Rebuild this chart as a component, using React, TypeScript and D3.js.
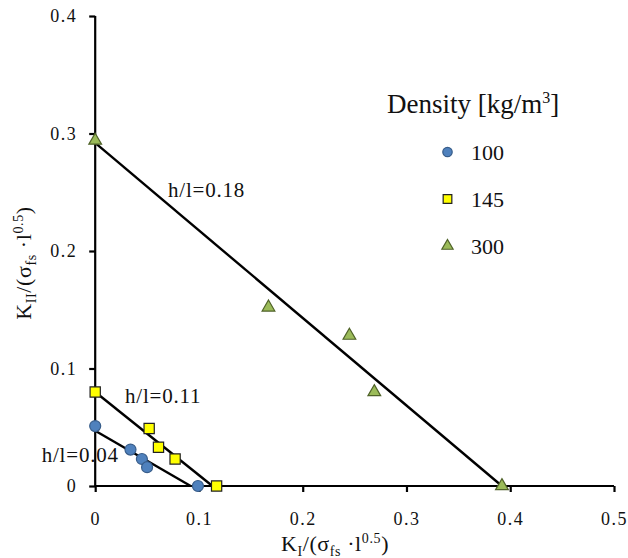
import React, { useEffect, useRef } from 'react';
import * as d3 from 'd3';

// points: [K_I, K_II] normalised
const density100 = [[0, 0.051], [0.034, 0.031], [0.045, 0.023], [0.05, 0.016], [0.099, 0]];
const density145 = [[0, 0.08], [0.052, 0.049], [0.061, 0.033], [0.077, 0.023], [0.117, 0]];
const density300 = [[0, 0.294], [0.167, 0.152], [0.245, 0.128], [0.269, 0.08], [0.392, 0]];

// fitted lines: [x intercept, y intercept]
const lineNames = ['h/l=0.04', 'h/l=0.11', 'h/l=0.18'];
const lineIntercepts = [[0.092, 0.047], [0.113, 0.08], [0.392, 0.292]];

const legendLabels = ['100', '145', '300'];
const xTicks = [0, 0.1, 0.2, 0.3, 0.4, 0.5];
const yTicks = [0, 0.1, 0.2, 0.3, 0.4];

const W = 628;
const H = 558;
const FONT = 'Liberation Serif, serif';

const App = () => {
  const ref = useRef<SVGSVGElement>(null);

  useEffect(() => {
    const svg = d3.select(ref.current);
    svg.selectAll('*').remove();

    const x = d3.scaleLinear().domain([0, 0.5]).range([95.2, 614]);
    const y = d3.scaleLinear().domain([0, 0.4]).range([486, 16]);

    // axes
    const xAxis = svg
      .append('g')
      .attr('transform', `translate(0,${y(0)})`)
      .call(
        d3.axisBottom(x).tickValues(xTicks).tickSize(6).tickPadding(20)
          .tickFormat((d) => (d === 0 ? '0' : d3.format('.1f')(d as number)))
      );
    const yAxis = svg
      .append('g')
      .attr('transform', `translate(${x(0)},0)`)
      .call(
        d3.axisLeft(y).tickValues(yTicks).tickSize(6).tickPadding(12)
          .tickFormat((d) => (d === 0 ? '0' : d3.format('.1f')(d as number)))
      );
    [xAxis, yAxis].forEach((g) => {
      g.attr('font-family', FONT);
      g.select('.domain').attr('stroke', '#000').attr('stroke-width', 2.2);
      g.selectAll('.tick line').attr('stroke', '#000').attr('stroke-width', 2.2);
      g.selectAll('.tick text')
        .attr('fill', '#111')
        .attr('font-family', FONT)
        .attr('font-size', 18)
        .attr('letter-spacing', 1.5);
    });
    // axis domain: plain line, no outer ticks
    xAxis.select('.domain').attr('d', `M${x(0)},0H${x(0.5)}`);
    yAxis.select('.domain').attr('d', `M0,${y(0)}V${y(0.4)}`);

    // fitted lines
    svg
      .append('g')
      .selectAll('line')
      .data(lineIntercepts)
      .join('line')
      .attr('x1', x(0))
      .attr('y1', (d) => y(d[1]))
      .attr('x2', (d) => x(d[0]))
      .attr('y2', y(0))
      .attr('stroke', '#000')
      .attr('stroke-width', 2.4);

    // line labels
    const labelPos = [[41.7, 461.5], [125, 402.5], [168, 197]];
    svg
      .append('g')
      .selectAll('text')
      .data(lineNames)
      .join('text')
      .attr('x', (d, i) => labelPos[i][0])
      .attr('y', (d, i) => labelPos[i][1])
      .attr('fill', '#111')
      .attr('font-family', FONT)
      .attr('font-size', 21)
      .attr('letter-spacing', 0.8)
      .text((d) => d);

    // markers
    const circle = d3.symbol(d3.symbolCircle, 95)();
    const square = d3.symbol(d3.symbolSquare, 105)();
    const tri = d3.symbol(d3.symbolTriangle, 70)();
    const series = [
      { data: density100, path: circle, fill: '#4F81BD', stroke: '#385D8A' },
      { data: density145, path: square, fill: '#FFFF00', stroke: '#222' },
      { data: density300, path: tri, fill: '#9BBB59', stroke: '#4F6228' },
    ];
    series.forEach((s) => {
      svg
        .append('g')
        .selectAll('path')
        .data(s.data)
        .join('path')
        .attr('d', s.path)
        .attr('transform', (d) => `translate(${x(d[0])},${y(d[1])})`)
        .attr('fill', s.fill)
        .attr('stroke', s.stroke)
        .attr('stroke-width', 1.2);
    });

    // legend
    const title = svg
      .append('text')
      .attr('x', 387)
      .attr('y', 113)
      .attr('fill', '#111')
      .attr('font-family', FONT)
      .attr('font-size', 27);
    title.append('tspan').text('Density [kg/m');
    title.append('tspan').attr('dy', -10).attr('font-size', 16).text('3');
    title.append('tspan').attr('dy', 10).text(']');

    const lg = svg.append('g');
    const legendMarks = [
      d3.symbol(d3.symbolCircle, 70)(),
      d3.symbol(d3.symbolSquare, 75)(),
      d3.symbol(d3.symbolTriangle, 55)(),
    ];
    const rowY = [152, 199, 246];
    legendLabels.forEach((lab, i) => {
      lg.append('path')
        .attr('d', legendMarks[i])
        .attr('transform', `translate(447.5,${rowY[i]})`)
        .attr('fill', series[i].fill)
        .attr('stroke', series[i].stroke)
        .attr('stroke-width', 1.2);
      lg.append('text')
        .attr('x', 471)
        .attr('y', rowY[i] + 8)
        .attr('fill', '#111')
        .attr('font-family', FONT)
        .attr('font-size', 22)
        .text(lab);
    });

    // axis titles
    const axisTitle = (t: any, parts: [string, string][]) => {
      let shift = 0;
      parts.forEach(([txt, kind]) => {
        const target = kind === 'sub' ? 5 : kind === 'sup' ? -8 : 0;
        const ts = t.append('tspan').attr('dy', target - shift).text(txt);
        if (kind !== 'n') ts.attr('font-size', 14);
        shift = target;
      });
    };
    const xt = svg
      .append('text')
      .attr('x', 335)
      .attr('y', 551)
      .attr('text-anchor', 'middle')
      .attr('fill', '#111')
      .attr('font-family', FONT)
      .attr('font-size', 22)
      .attr('letter-spacing', 0.6);
    axisTitle(xt, [['K', 'n'], ['I', 'sub'], ['/(σ', 'n'], ['fs', 'sub'], [' ·l', 'n'], ['0.5', 'sup'], [')', 'n']]);

    const yt = svg
      .append('text')
      .attr('transform', 'translate(31,263) rotate(-90)')
      .attr('text-anchor', 'middle')
      .attr('fill', '#111')
      .attr('font-family', FONT)
      .attr('font-size', 22)
      .attr('letter-spacing', 0.6);
    axisTitle(yt, [['K', 'n'], ['II', 'sub'], ['/(σ', 'n'], ['fs', 'sub'], [' ·l', 'n'], ['0.5', 'sup'], [')', 'n']]);
  }, []);

  return (
    <>
      <style>{'body{margin:0}'}</style>
      <svg ref={ref} width={W} height={H} style={{ display: 'block', background: '#fff' }} />
    </>
  );
};

export default App;
